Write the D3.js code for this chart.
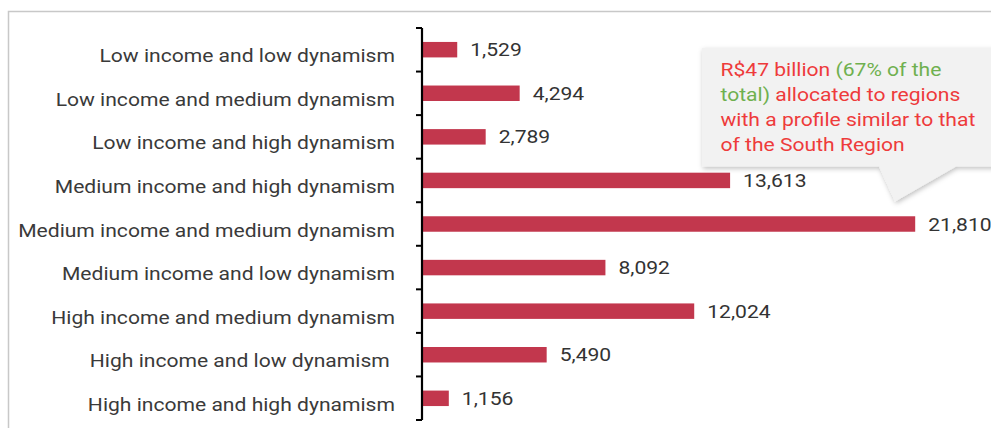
<!DOCTYPE html>
<html>
<head>
<meta charset="utf-8">
<script src="https://cdn.jsdelivr.net/npm/d3@7"></script>
<style>
  html, body { margin: 0; padding: 0; background: #fff; }
  svg { display: block; font-family: Roboto, "Noto Sans", sans-serif; }
</style>
</head>
<body>
<svg id="chart" width="991" height="428"></svg>
<script>
const categories = [
  "Low income and low dynamism",
  "Low income and medium dynamism",
  "Low income and high dynamism",
  "Medium income and high dynamism",
  "Medium income and medium dynamism",
  "Medium income and low dynamism",
  "High income and medium dynamism",
  "High income and low dynamism ",
  "High income and high dynamism"
];
const values = [1529, 4294, 2789, 13613, 21810, 8092, 12024, 5490, 1156];
const calloutLines = [
  [["R$47 billion ", "red"], ["(67% of the", "green"]],
  [["total)", "green"], [" allocated to regions", "red"]],
  [["with a profile similar to that", "red"]],
  [["of the South Region", "red"]]
];

const svg = d3.select("#chart");
const W = 991, H = 428;
const SX = 1.11, FS = 19;

// frame
svg.append("path")
  .attr("d", `M8.5,${H} L8.5,11.5 L${W},11.5`)
  .attr("fill", "none").attr("stroke", "#c8c8c8").attr("stroke-width", 1.5);

const axisX = 422;
const y = d3.scaleBand().domain(categories).range([28, 420]).paddingInner(0.645).paddingOuter(0.32);
const x = d3.scaleLinear().domain([0, 21810]).range([axisX + 0.7, axisX + 0.7 + 492.5]);

const g = svg.append("g");

g.selectAll("rect.bar").data(values).join("rect")
  .attr("class", "bar")
  .attr("x", x(0))
  .attr("y", (d, i) => y(categories[i]))
  .attr("width", d => x(d) - x(0))
  .attr("height", y.bandwidth())
  .attr("fill", "#c2374d");

// value labels
g.selectAll("text.val").data(values).join("text")
  .attr("class", "val")
  .attr("transform", (d, i) => `translate(${x(d) + 13},${y(categories[i]) + y.bandwidth() / 2}) scale(${SX},1)`)
  .attr("dy", "0.35em")
  .attr("font-size", FS)
  .attr("fill", "#333")
  .text(d => d3.format(",")(d));

// category axis with ticks between bands
const bandStep = (420 - 28) / categories.length;
const tickYs = d3.range(categories.length + 1).map(i => 28 + i * bandStep);
g.append("line").attr("x1", axisX).attr("x2", axisX).attr("y1", 28).attr("y2", 420)
  .attr("stroke", "#000").attr("stroke-width", 2.2);
g.selectAll("line.tick").data(tickYs).join("line")
  .attr("class", "tick")
  .attr("x1", axisX - 6).attr("x2", axisX)
  .attr("y1", d => d).attr("y2", d => d)
  .attr("stroke", "#000").attr("stroke-width", 2);

g.selectAll("text.cat").data(categories).join("text")
  .attr("class", "cat")
  .attr("transform", d => `translate(395,${y(d) + y.bandwidth() / 2 + 6}) scale(${SX},1)`)
  .attr("dy", "0.35em")
  .attr("text-anchor", "end")
  .attr("font-size", FS)
  .attr("fill", "#3a3a3a")
  .style("white-space", "pre")
  .attr("xml:space", "preserve")
  .text(d => d);

// callout
const defs = svg.append("defs");
const f = defs.append("filter").attr("id", "sh").attr("x", "-10%").attr("y", "-10%").attr("width", "130%").attr("height", "140%");
f.append("feDropShadow").attr("dx", 1).attr("dy", 2).attr("stdDeviation", 2.5).attr("flood-color", "#000").attr("flood-opacity", 0.25);

const bx = 702, by = 48, bw = 300, bh = 118.5;
svg.append("path")
  .attr("d", `M${bx},${by} L${bx + bw},${by} L${bx + bw},${by + bh} L956,${by + bh} L895,201.5 L879,${by + bh} L${bx},${by + bh} Z`)
  .attr("fill", "#f2f2f2")
  .attr("filter", "url(#sh)");

const colorMap = { red: "#ee3b3b", green: "#6fb04f" };
const ct = svg.append("g").attr("font-size", FS);
calloutLines.forEach((line, i) => {
  const t = ct.append("text")
    .attr("transform", `translate(720.5,${76 + i * 25}) scale(${SX},1)`)
    .attr("xml:space", "preserve").style("white-space", "pre");
  line.forEach(([s, c]) => t.append("tspan").attr("fill", colorMap[c]).text(s));
});
</script>
</body>
</html>
